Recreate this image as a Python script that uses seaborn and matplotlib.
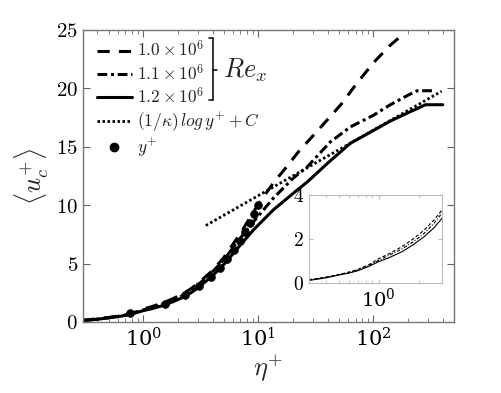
import numpy as np
import pandas as pd
import matplotlib
matplotlib.use("Agg")
import matplotlib.pyplot as plt
import matplotlib.ticker as mticker
from matplotlib.lines import Line2D
import seaborn as sns

# ---------------- data ----------------
eta_re10 = [0.3, 0.4, 0.5, 0.6, 0.7, 0.85, 1.0, 1.2, 1.5, 1.8, 2.2, 2.6, 3.0, 4.0, 5.0, 7.0, 10.0, 13.5, 17.0, 22.0, 35.0, 52.0, 70.0, 100.0, 140.0, 165.0, 195.0]
u_re10   = [0.15, 0.27, 0.38, 0.5, 0.62, 0.84, 1.1, 1.33, 1.65, 1.98, 2.4, 2.85, 3.32, 4.4, 5.5, 7.6, 10.1, 11.9, 13.1, 14.5, 16.7, 18.6, 20.3, 22.2, 23.7, 24.3, 24.3]

eta_re11 = [0.3, 0.4, 0.5, 0.6, 0.7, 0.85, 1.0, 1.2, 1.5, 1.8, 2.2, 2.6, 3.0, 4.0, 5.0, 7.0, 9.1, 13.5, 20.0, 26.7, 42.0, 63.0, 100.0, 140.0, 198.0, 240.0, 330.0]
u_re11   = [0.13, 0.25, 0.37, 0.48, 0.59, 0.8, 1.03, 1.26, 1.55, 1.85, 2.25, 2.7, 3.18, 4.3, 5.3, 7.2, 8.6, 10.6, 12.3, 13.3, 15.4, 16.7, 17.7, 18.6, 19.4, 19.8, 19.8]

eta_re12 = [0.3, 0.4, 0.5, 0.6, 0.7, 0.85, 1.0, 1.2, 1.5, 1.8, 2.2, 2.6, 3.0, 4.0, 5.0, 7.0, 9.1, 13.5, 20.0, 26.7, 40.0, 63.0, 100.0, 140.0, 198.0, 283.0, 400.0]
u_re12   = [0.12, 0.23, 0.36, 0.45, 0.56, 0.76, 0.97, 1.15, 1.42, 1.72, 2.1, 2.5, 2.94, 3.95, 4.9, 6.6, 7.9, 9.6, 11.0, 12.0, 13.6, 15.3, 16.4, 17.2, 17.9, 18.6, 18.6]

eta_log = [3.5, 10.0, 30.0, 100.0, 300.0, 390.0]
u_log   = [8.26, 10.82, 13.50, 16.43, 19.11, 19.75]

eta_dots = [0.77, 1.54, 2.31, 3.08, 3.85, 4.62, 5.39, 6.16, 6.93, 7.70, 8.47, 9.24, 10.0]
u_dots   = [0.77, 1.54, 2.31, 3.08, 3.85, 4.62, 5.39, 6.16, 6.93, 7.70, 8.47, 9.24, 10.0]

labels = [r'$1.0\times10^6$', r'$1.1\times10^6$', r'$1.2\times10^6$',
          r'$(1/\kappa)\,log\,y^{+}+C$', r'$y^{+}$']
main_yticks = [0, 5, 10, 15, 20, 25]
inset_yticks = [0, 2, 4]

# ---------------- style ----------------
sns.set_style("ticks")
plt.rcParams['font.family'] = ['DejaVu Serif']
plt.rcParams['mathtext.fontset'] = 'cm'
plt.rcParams['axes.formatter.use_mathtext'] = True

fig = plt.figure(figsize=(5.02, 3.93), dpi=100)
ax = fig.add_axes([0.1653, 0.1807, 0.739, 0.743])

dash_s = (0, (4, 3))
dashdot_s = (0, (3.2, 1.2, 1.0, 1.2))
dot_s = (0, (0.9, 0.9))
LW = 2.2

sns.lineplot(x=eta_re10, y=u_re10, ax=ax, color='k', lw=LW, linestyle=dash_s, estimator=None)
sns.lineplot(x=eta_re11, y=u_re11, ax=ax, color='k', lw=LW, linestyle=dashdot_s, estimator=None)
sns.lineplot(x=eta_re12, y=u_re12, ax=ax, color='k', lw=LW, linestyle='-', estimator=None)
sns.lineplot(x=eta_log, y=u_log, ax=ax, color='k', lw=2.0, linestyle=dot_s, estimator=None)
sns.scatterplot(x=eta_dots, y=u_dots, ax=ax, color='k', s=32, edgecolor='k', zorder=5)

ax.set_xscale('log')
ax.set_xlim(0.3, 500)
ax.set_ylim(0, 25)
ax.set_yticks(main_yticks)
ax.yaxis.set_major_formatter(mticker.FuncFormatter(lambda v, p: f'${v:g}$'))
ax.xaxis.set_major_locator(mticker.LogLocator(base=10, numticks=10))
ax.xaxis.set_minor_locator(mticker.LogLocator(base=10, subs=np.arange(2, 10), numticks=20))
ax.xaxis.set_minor_formatter(mticker.NullFormatter())
ax.tick_params(axis='both', which='both', direction='in', top=True, right=True,
               colors='#666666', labelcolor='k', labelsize=15)
ax.tick_params(which='major', length=5)
ax.tick_params(which='minor', length=3)
for s in ax.spines.values():
    s.set_color('#777777')
    s.set_linewidth(1.0)

ax.set_xlabel(r'$\eta^{+}$', fontsize=19, labelpad=2)
ax.set_ylabel(r'$\langle u_c^{+}\rangle$', fontsize=19, labelpad=4)

handles = [Line2D([], [], color='k', lw=LW, linestyle=dash_s),
           Line2D([], [], color='k', lw=LW, linestyle=dashdot_s),
           Line2D([], [], color='k', lw=LW, linestyle='-'),
           Line2D([], [], color='k', lw=2.0, linestyle=dot_s),
           Line2D([], [], color='k', lw=0, marker='o', markersize=6.0)]
leg = ax.legend(handles, labels, loc='upper left', frameon=False, fontsize=12.5,
                handlelength=2.0, handletextpad=0.3, labelspacing=0.18,
                bbox_to_anchor=(0.01, 1.0), borderaxespad=0.2)

# bracket for Re_x
bx = 213 / 502
y_top = 1 - 38 / 393
y_bot = 1 - 100 / 393
y_mid = 1 - 70 / 393
fig.add_artist(Line2D([bx, bx], [y_bot, y_top], transform=fig.transFigure, color='k', lw=1.1))
fig.add_artist(Line2D([bx - 0.008, bx], [y_top, y_top], transform=fig.transFigure, color='k', lw=1.1))
fig.add_artist(Line2D([bx - 0.008, bx], [y_bot, y_bot], transform=fig.transFigure, color='k', lw=1.1))
fig.add_artist(Line2D([bx, bx + 0.008], [y_mid, y_mid], transform=fig.transFigure, color='k', lw=1.1))
fig.text(bx + 0.02, y_mid, r'$Re_x$', fontsize=19, va='center', ha='left')

# ---------------- inset ----------------
axi = fig.add_axes([309 / 502, 1 - 283 / 393, 133 / 502, 88 / 393])
sns.lineplot(x=eta_re10, y=u_re10, ax=axi, color='k', lw=0.8, linestyle=(0, (3, 2)), estimator=None)
sns.lineplot(x=eta_re11, y=u_re11, ax=axi, color='k', lw=0.8, linestyle=(0, (3, 1.5, 1, 1.5)), estimator=None)
sns.lineplot(x=eta_re12, y=u_re12, ax=axi, color='k', lw=0.8, linestyle='-', estimator=None)
axi.set_xscale('log')
axi.set_xlim(0.3, 3)
axi.set_ylim(0, 4)
axi.set_yticks(inset_yticks)
axi.yaxis.set_major_formatter(mticker.FuncFormatter(lambda v, p: f'${v:g}$'))
axi.xaxis.set_major_locator(mticker.LogLocator(base=10, numticks=10))
axi.xaxis.set_minor_locator(mticker.LogLocator(base=10, subs=np.arange(2, 10), numticks=20))
axi.xaxis.set_minor_formatter(mticker.NullFormatter())
axi.tick_params(axis='both', which='both', direction='in', top=True, right=True,
                colors='#bbbbbb', labelcolor='k', labelsize=14)
axi.tick_params(which='major', length=3)
axi.tick_params(which='minor', length=2)
for s in axi.spines.values():
    s.set_color('#bbbbbb')
    s.set_linewidth(0.8)
axi.set_xlabel('')
axi.set_ylabel('')

fig.savefig('out.png', dpi=100)
